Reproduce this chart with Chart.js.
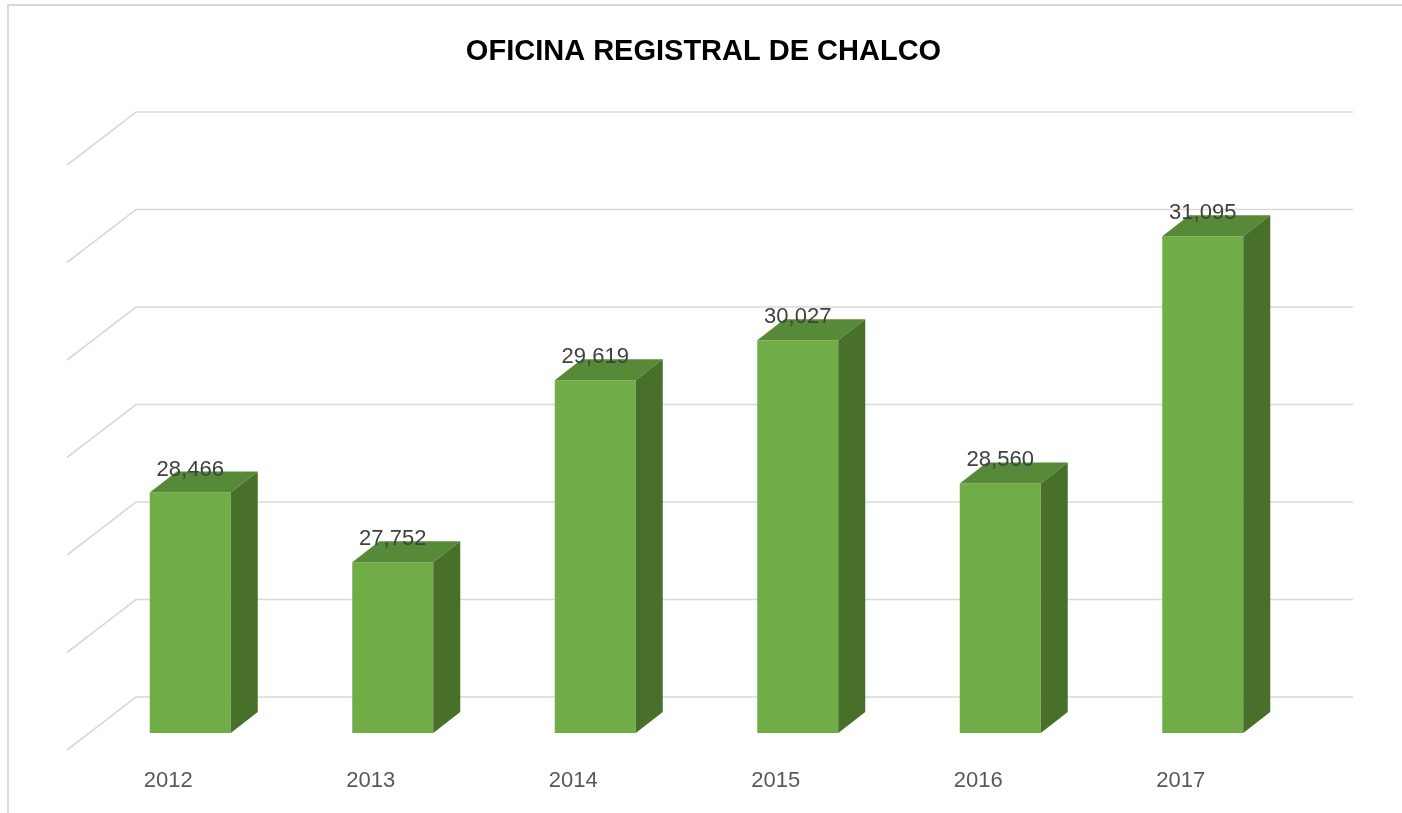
<!DOCTYPE html>
<html>
<head>
<meta charset="utf-8">
<script src="https://cdn.jsdelivr.net/npm/chart.js@4/dist/chart.umd.min.js"></script>
<style>
  html, body { margin: 0; padding: 0; background: #fff; }
  #wrap { position: relative; width: 1402px; height: 813px; }
</style>
</head>
<body>
<div id="wrap"><canvas id="c" width="1402" height="813"></canvas></div>
<script>
const title = 'OFICINA REGISTRAL DE CHALCO';
const categories = ['2012', '2013', '2014', '2015', '2016', '2017'];
const values = [28466, 27752, 29619, 30027, 28560, 31095];
const yMin = 26000;
const yMax = 32000;
const yStep = 1000;

const FRONT = '#70ad47';
const TOP = '#578a38';
const SIDE = '#48702a';
const GRID = '#d9d9d9';

// depth of bar and of the floor (from bar plane to back wall)
const BAR_DX = 27, BAR_DY = 21;
const WALL_DX = 47, WALL_DY = 36;
const FLOOR_DX = 69, FLOOR_DY = 53;

const threeD = {
  id: 'threeD',
  afterLayout(chart) {
    if (chart.titleBlock) {
      chart.titleBlock.left += 7;
      chart.titleBlock.right += 7;
    }
  },
  beforeDraw(chart) {
    const ctx = chart.ctx;
    ctx.save();
    ctx.strokeStyle = GRID;
    ctx.lineWidth = 2;
    ctx.beginPath();
    ctx.moveTo(8, 820);
    ctx.lineTo(8, 5);
    ctx.lineTo(1410, 5);
    ctx.stroke();
    ctx.restore();
  },
  beforeDatasetsDraw(chart) {
    const ctx = chart.ctx;
    const ys = chart.scales.y;
    const ca = chart.chartArea;
    const backLeft = ca.left + WALL_DX;
    const backRight = ca.right + WALL_DX + 2;
    ctx.save();
    ctx.strokeStyle = GRID;
    ctx.lineWidth = 1.6;
    ys.ticks.forEach(t => {
      const yb = ys.getPixelForValue(t.value) - WALL_DY;
      ctx.beginPath();
      ctx.moveTo(backLeft - FLOOR_DX, yb + FLOOR_DY);
      ctx.lineTo(backLeft, yb);
      ctx.lineTo(backRight, yb);
      ctx.stroke();
    });
    ctx.restore();
  },
  afterDatasetsDraw(chart) {
    const ctx = chart.ctx;
    const ys = chart.scales.y;
    const meta = chart.getDatasetMeta(0);
    const base = ys.getPixelForValue(yMin);
    ctx.save();
    meta.data.forEach((bar, i) => {
      const w = bar.width;
      const l = bar.x - w / 2, r = bar.x + w / 2;
      const y = bar.y, b = base;
      // top face
      ctx.fillStyle = TOP;
      ctx.beginPath();
      ctx.moveTo(l, y);
      ctx.lineTo(l + BAR_DX, y - BAR_DY);
      ctx.lineTo(r + BAR_DX, y - BAR_DY);
      ctx.lineTo(r, y);
      ctx.closePath();
      ctx.fill();
      // side face
      ctx.fillStyle = SIDE;
      ctx.beginPath();
      ctx.moveTo(r, y);
      ctx.lineTo(r + BAR_DX, y - BAR_DY);
      ctx.lineTo(r + BAR_DX, b - BAR_DY);
      ctx.lineTo(r, b);
      ctx.closePath();
      ctx.fill();
    });
    // value labels
    ctx.fillStyle = '#404040';
    ctx.font = '22px "Liberation Sans", Arial, sans-serif';
    ctx.textAlign = 'center';
    ctx.textBaseline = 'alphabetic';
    meta.data.forEach((bar, i) => {
      ctx.fillText(values[i].toLocaleString('en-US'), bar.x, bar.y - 17);
    });
    ctx.restore();
  }
};

new Chart(document.getElementById('c'), {
  type: 'bar',
  data: {
    labels: categories,
    datasets: [{
      data: values,
      backgroundColor: FRONT,
      borderWidth: 0,
      barPercentage: 0.4,
      categoryPercentage: 1.0
    }]
  },
  options: {
    responsive: false,
    animation: false,
    events: [],
    layout: { padding: { left: 89, right: 98, top: 0, bottom: 0 } },
    plugins: {
      legend: { display: false },
      tooltip: { enabled: false },
      title: {
        display: true,
        text: title,
        color: '#000000',
        font: { family: '"Liberation Sans", Arial, sans-serif', size: 29, weight: 'bold' },
        padding: { top: 35, bottom: 78.2 }
      }
    },
    scales: {
      x: {
        grid: { display: false, drawTicks: false },
        border: { display: false },
        ticks: {
          color: '#595959',
          font: { family: '"Liberation Sans", Arial, sans-serif', size: 22 },
          padding: 35,
          labelOffset: -22,
          maxRotation: 0
        },
        afterFit(axis) { axis.height = 80; }
      },
      y: {
        min: yMin,
        max: yMax,
        ticks: { stepSize: yStep, display: false },
        grid: { display: false },
        border: { display: false },
        afterFit(axis) { axis.width = 0; }
      }
    }
  },
  plugins: [threeD]
});
</script>
</body>
</html>
